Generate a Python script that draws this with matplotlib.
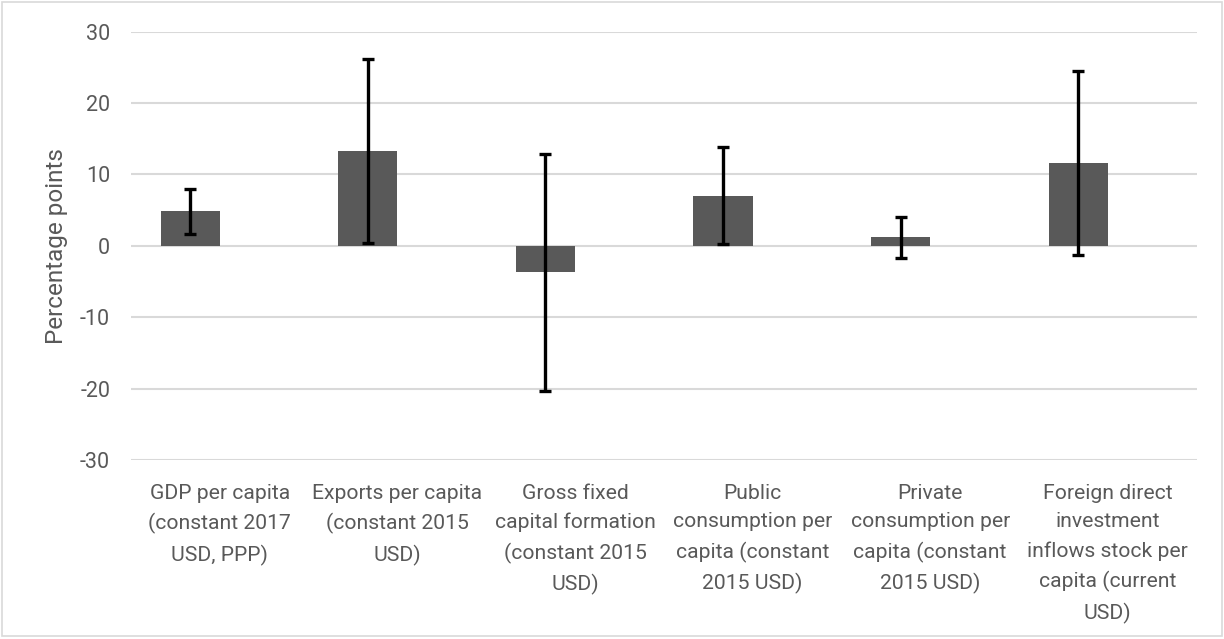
import matplotlib
matplotlib.use("Agg")
import matplotlib.pyplot as plt
from matplotlib.patches import Rectangle

# Data
categories = [
    "GDP per capita\n(constant 2017\nUSD, PPP)",
    "Exports per capita\n(constant 2015\nUSD)",
    "Gross fixed\ncapital formation\n(constant 2015\nUSD)",
    "Public\nconsumption per\ncapita (constant\n2015 USD)",
    "Private\nconsumption per\ncapita (constant\n2015 USD)",
    "Foreign direct\ninvestment\ninflows stock per\ncapita (current\nUSD)",
]
values = [4.8, 13.25, -3.7, 7.0, 1.2, 11.6]
errors = [3.15, 12.9, 16.6, 6.8, 2.85, 12.9]
yticks = [-30, -20, -10, 0, 10, 20, 30]

plt.rcParams["font.family"] = ["Roboto", "DejaVu Sans"]

text_color = "#595959"
grid_color = "#d9d9d9"

fig = plt.figure(figsize=(12.24, 6.39), dpi=100)
ax = fig.add_axes([0.107, 0.2801, 0.8706, 0.6706])

x = list(range(len(categories)))
# Bars occupy the left slot of each category group
bars = ax.bar(x, values, width=-0.333, align="edge", color="#595959", zorder=2)
centers = [b.get_x() + b.get_width() / 2 for b in bars]
ax.errorbar(centers, values, yerr=errors, fmt="none", ecolor="black",
            elinewidth=2.4, capsize=4.2, capthick=2.4, zorder=3)

ax.set_xlim(-0.5, len(categories) - 0.5)
ax.set_ylim(-30, 30)
ax.set_yticks(yticks)
ax.set_yticklabels([str(t) for t in yticks])
ax.set_xticks(x)
ax.set_xticklabels(categories, linespacing=1.64)
ax.yaxis.grid(True, color=grid_color, linewidth=1.5, zorder=0)
ax.set_axisbelow(True)
for s in ax.spines.values():
    s.set_visible(False)
ax.tick_params(axis="y", length=0, pad=15, labelsize=15.5, labelcolor=text_color)
ax.tick_params(axis="x", length=0, pad=17, labelsize=15.2, labelcolor=text_color)
ax.set_ylabel("Percentage points", fontsize=17.5, color=text_color, labelpad=9)

# Thin frame around the whole chart area
fig.patches.append(Rectangle((0.002, 0.004), 0.996, 0.993, transform=fig.transFigure,
                             fill=False, edgecolor=grid_color, linewidth=1.2))

fig.savefig("out.png", dpi=100)
